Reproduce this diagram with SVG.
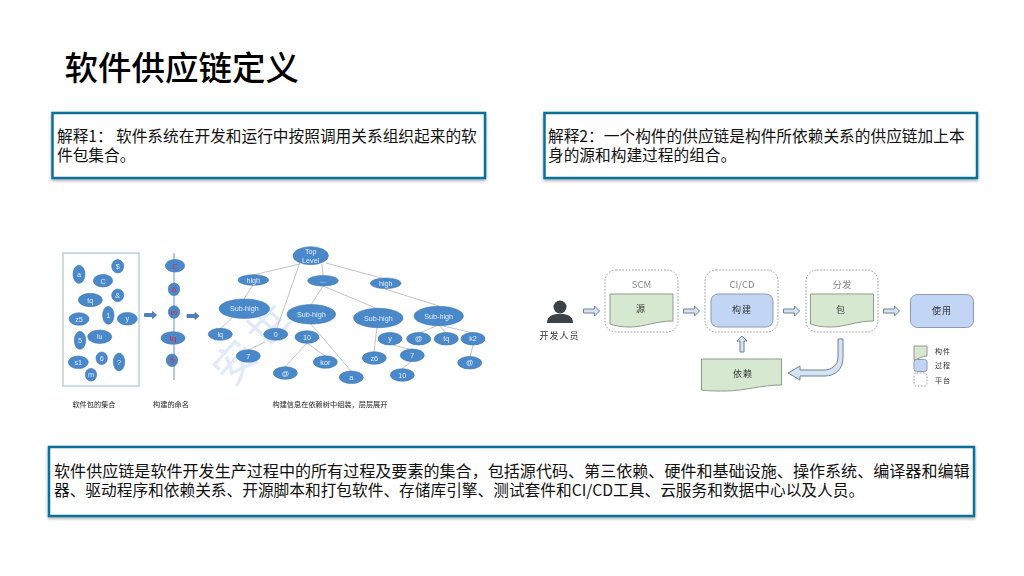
<svg xmlns="http://www.w3.org/2000/svg" width="1024" height="576" viewBox="0 0 1024 576">
<style>
text{font-family:"Noto Sans CJK SC","Liberation Sans",sans-serif;}
.box{fill:#fff;stroke:#0f6f98;stroke-width:2.500;filter:url(#sh);}
.t{font-size:15.700px;fill:#111;}
.n{fill:#4a88c9;stroke:#3f76ad;stroke-width:.6;}
.l{font-size:7.200px;fill:#e4eef8;text-anchor:middle;font-family:"Liberation Sans",sans-serif;}
.r{font-size:7.600px;fill:#f01f28;text-anchor:middle;font-family:"Liberation Sans",sans-serif;}
.cap{font-size:7.200px;fill:#222;text-anchor:middle;}
.g{stroke:#b4b4b4;stroke-width:.8;fill:none;}
.art{fill:#d6e8cf;stroke:#8f9a8c;stroke-width:1;}
.proc{fill:#c3d5f5;stroke:#8d99b3;stroke-width:1;}
.plat{fill:#fff;stroke:#999;stroke-width:1;stroke-dasharray:1.600 1.600;}
.arr{fill:#d5e3f3;stroke:#6f8296;stroke-width:1;}
.zh{font-size:9px;fill:#333;text-anchor:middle;letter-spacing:1px;}
.hd{font-size:9.500px;fill:#888;text-anchor:middle;}
.ba{fill:#4f81bd;stroke:#3b6ea5;stroke-width:.8;}
.soft{filter:url(#bl);}
.soft2{filter:url(#bl2);}
</style>
<defs>
<filter id="sh" x="-3%" y="-10%" width="106%" height="125%"><feDropShadow dx="0" dy="1.500" stdDeviation="1.500" flood-color="#000" flood-opacity=".35"/></filter>
<filter id="bl" x="-2%" y="-2%" width="104%" height="104%"><feGaussianBlur stdDeviation=".4"/></filter>
<filter id="bl2" x="-5%" y="-5%" width="110%" height="110%"><feGaussianBlur stdDeviation=".3"/></filter>
<path id="doc" d="M0 0H63V27C45 27 35 33 20 33C12 33 6 32 0 30Z"/>
</defs>

<text id="title" x="64.500" y="80" font-size="33.500" fill="#000" style="font-weight:500">软件供应链定义</text>

<g id="def1"><rect class="box" x="52.500" y="113" width="432.500" height="65"/>
<text class="t" x="57" y="142">解释1：<tspan x="116">软件系统在开发和运行中按照调用关系组织起来的软</tspan><tspan x="57" y="161">件包集合。</tspan></text></g>
<g id="def2"><rect class="box" x="544.500" y="113" width="432.500" height="65"/>
<text class="t" x="548" y="141.500">解释2：一个构件的供应链是构件所依赖关系的供应链加上本<tspan x="548" y="161">身的源和构建过程的组合。</tspan></text></g>
<g id="def3"><rect class="box" x="49" y="447" width="925" height="69"/>
<text class="t" x="54" y="477"><tspan style="font-size:16.070px">软件供应链是软件开发生产过程中的所有过程及要素的集合，包括源代码、第三依赖、硬件和基础设施、操作系统、编译器和编辑</tspan><tspan x="54" y="495.500">器、驱动程序和依赖关系、开源脚本和打包软件、存储库引擎、测试套件和CI/CD工具、云服务和数据中心以及人员。</tspan></text></g>

<g id="watermark"><text x="232" y="388" font-size="42" fill="#e1ebf8" letter-spacing="8" transform="rotate(-48 232 388)">安世</text></g>

<g id="connectors" class="soft">
<path class="g" d="M300 264L253 275M300 262L277 328M322 264L323 275M326 263L385 279M253 285L244 299M232 318L220 329M323 286L311 305M323 286L378 309M385 289L439 306M265 342L248 350M311 324L351 371M307 343L285 367M307 343L325 356M377 327L374 352M390 344L412 350M412 361L402 369M439 325L419 333M439 325L446 333M439 325L473 333M473 345L470 357"/>
<path d="M174 253V380" stroke="#7fa6cf" stroke-width="1.200" fill="none"/>
<path class="ba" d="M144.500 313.500h8v-2l4 3.500-4 3.500v-2h-8zM187 314.500h8v-2l4 3.500-4 3.500v-2h-8z"/>
<path class="arr" d="M583.500 309h11v-3l5 5-5 5v-3h-11zM683.500 309h11v-3l5 5-5 5v-3h-11zM783.500 309h11v-3l5 5-5 5v-3h-11zM883.500 309h11v-3l5 5-5 5v-3h-11zM740 352v-11h-3l5-5 5 5h-3v11z"/>
<path class="arr" d="M838 339H843V358C843 369 835 376 825 376H800V380L788 373L800 366V370H824C832 370 838 365 838 357Z"/>
</g>

<g id="packages" class="soft"><rect x="63" y="253" width="76" height="133" fill="none" stroke="#bccfe3" stroke-width="1.500"/>
<ellipse class="n" cx="79" cy="274.300" rx="6" ry="9"/><text class="l" x="79" y="277">a</text>
<ellipse class="n" cx="117.700" cy="266.300" rx="6" ry="6.700"/><text class="l" x="117.700" y="269">$</text>
<ellipse class="n" cx="103" cy="280.700" rx="9.700" ry="6.300"/><text class="l" x="103" y="283.500">C</text>
<ellipse class="n" cx="90.300" cy="300" rx="12" ry="6.700"/><text class="l" x="90.300" y="302.500">tq</text>
<ellipse class="n" cx="117.700" cy="295.300" rx="6" ry="6.300"/><text class="l" x="117.700" y="298">&amp;</text>
<ellipse class="n" cx="79" cy="319" rx="10" ry="6.300"/><text class="l" x="79" y="321.500">z5</text>
<ellipse class="n" cx="108.300" cy="315.300" rx="5.700" ry="9"/><text class="l" x="108.300" y="318">1</text>
<ellipse class="n" cx="127.300" cy="318.700" rx="10" ry="6.300"/><text class="l" x="127.300" y="321">y</text>
<ellipse class="n" cx="80" cy="340.300" rx="5.700" ry="9"/><text class="l" x="80" y="343">5</text>
<ellipse class="n" cx="99.700" cy="336.700" rx="12" ry="6.700"/><text class="l" x="99.700" y="339">lu</text>
<ellipse class="n" cx="78.300" cy="362.300" rx="10" ry="6.300"/><text class="l" x="78.300" y="365">s1</text>
<ellipse class="n" cx="101.700" cy="358.300" rx="5.700" ry="6.300"/><text class="l" x="101.700" y="361">6</text>
<ellipse class="n" cx="119" cy="362" rx="5.700" ry="9"/><text class="l" x="119" y="364.500">?</text>
<ellipse class="n" cx="91" cy="374.700" rx="5.700" ry="6.300"/><text class="l" x="91" y="377">m</text>
<text class="cap" x="94" y="407">软件包的集合</text></g>

<g id="chain" class="soft">
<ellipse class="n" cx="175" cy="265.700" rx="9.700" ry="6.300"/><text class="r" x="175" y="268.500">C</text>
<ellipse class="n" cx="174" cy="289.300" rx="5.700" ry="6.300"/><text class="r" x="174" y="292">6</text>
<ellipse class="n" cx="174" cy="312" rx="5.700" ry="6.300"/><text class="r" x="174" y="314.500">m</text>
<ellipse class="n" cx="173" cy="338" rx="12" ry="6.300"/><text class="r" x="173" y="340.500">tq</text>
<ellipse class="n" cx="172" cy="360.300" rx="5.700" ry="6.300"/><text class="r" x="172" y="363">5</text>
<text class="cap" x="171" y="407">构建的命名</text></g>

<g id="tree" class="soft">
<ellipse class="n" cx="310.700" cy="255.700" rx="17.700" ry="9"/><text class="l" x="310.700" y="254">Top<tspan x="310.700" y="262.500">Level</tspan></text>
<ellipse class="n" cx="253.300" cy="280" rx="15.300" ry="5.300"/><text class="l" x="253.300" y="282.500">high</text>
<ellipse class="n" cx="323" cy="280.700" rx="15.300" ry="5.300"/><text class="l" x="323" y="283">...</text>
<ellipse class="n" cx="385.700" cy="283.300" rx="15.300" ry="5.300"/><text class="l" x="385.700" y="286">high</text>
<ellipse class="n" cx="244.300" cy="308.700" rx="25.300" ry="9.700"/><text class="l" x="244.300" y="311">Sub-high</text>
<ellipse class="n" cx="311.300" cy="314.300" rx="24.300" ry="9.700"/><text class="l" x="311.300" y="317">Sub-high</text>
<ellipse class="n" cx="378.300" cy="318" rx="24.700" ry="9.700"/><text class="l" x="378.300" y="320.500">Sub-high</text>
<ellipse class="n" cx="438.700" cy="316" rx="24.700" ry="9.700"/><text class="l" x="438.700" y="318.500">Sub-high</text>
<ellipse class="n" cx="220.300" cy="334.300" rx="12" ry="6"/><text class="l" x="220.300" y="337">lq</text>
<ellipse class="n" cx="275.700" cy="334.300" rx="12" ry="6"/><text class="l" x="275.700" y="337">0</text>
<ellipse class="n" cx="307" cy="337" rx="12" ry="6.300"/><text class="l" x="307" y="339.500">10</text>
<ellipse class="n" cx="248.300" cy="356" rx="12" ry="6.300"/><text class="l" x="248.300" y="358.500">7</text>
<ellipse class="n" cx="285.300" cy="373" rx="12" ry="6.300"/><text class="l" x="285.300" y="375.500">@</text>
<ellipse class="n" cx="325.300" cy="362" rx="12" ry="6.300"/><text class="l" x="325.300" y="364.500">kor</text>
<ellipse class="n" cx="351.300" cy="377.300" rx="12" ry="6.300"/><text class="l" x="351.300" y="380">a</text>
<ellipse class="n" cx="390" cy="338.700" rx="12" ry="6.300"/><text class="l" x="390" y="341">y</text>
<ellipse class="n" cx="374.300" cy="358" rx="12" ry="6.300"/><text class="l" x="374.300" y="360.500">z6</text>
<ellipse class="n" cx="412.300" cy="355.300" rx="12" ry="6.300"/><text class="l" x="412.300" y="358">7</text>
<ellipse class="n" cx="402.300" cy="375" rx="12" ry="6.300"/><text class="l" x="402.300" y="377.500">10</text>
<ellipse class="n" cx="418.700" cy="338.700" rx="12" ry="6.300"/><text class="l" x="418.700" y="341">@</text>
<ellipse class="n" cx="446.300" cy="338.700" rx="12" ry="6.300"/><text class="l" x="446.300" y="341">tq</text>
<ellipse class="n" cx="473" cy="338.700" rx="12" ry="6.300"/><text class="l" x="473" y="341">k2</text>
<ellipse class="n" cx="469.700" cy="362.700" rx="12" ry="6.300"/><text class="l" x="469.700" y="365">@</text>
<text class="cap" x="330" y="407">构建信息在依赖树中组装，层层展开</text></g>

<g id="dev" class="soft2"><circle cx="560" cy="307" r="6.500" fill="#3d4349"/><path d="M547 323c0-8 7-9 13-9s13 1 13 9z" fill="#3d4349"/><text class="zh" x="559.500" y="339">开发人员</text></g>
<g id="scm" class="soft2"><rect class="plat" x="605" y="270" width="73" height="62" rx="11"/><text class="hd" x="641.500" y="288">SCM</text><use href="#doc" class="art" x="610" y="294"/><text class="zh" x="641" y="312">源</text></g>
<g id="cicd" class="soft2"><rect class="plat" x="705" y="270" width="73" height="62" rx="11"/><text class="hd" x="742" y="288">CI/CD</text><rect class="proc" x="711" y="294" width="62" height="33" rx="7"/><text class="zh" x="742" y="313">构建</text></g>
<g id="dist" class="soft2"><rect class="plat" x="806" y="270" width="72" height="62" rx="11"/><text class="hd" x="842" y="288">分发</text><use href="#doc" class="art" x="810.500" y="294"/><text class="zh" x="841" y="313">包</text></g>
<g id="use" class="soft2"><rect class="proc" x="910.500" y="294.500" width="63" height="33" rx="7"/><text class="zh" x="942" y="314">使用</text></g>
<g id="dep" class="soft2"><path class="art" d="M701.500 359H781.500V385C760 385 745 391 725 391C715 391 708 391 701.500 390Z"/><text class="zh" x="743" y="377">依赖</text></g>
<g id="legend" class="soft2"><path class="art" d="M914 346h13v10c-5 0-8 3-13 4z"/><rect class="proc" x="914" y="359.500" width="13" height="12" rx="2.500"/><rect class="plat" x="914" y="373" width="13" height="13" rx="2.500"/>
<text class="zh" x="943" y="354" style="font-size:7px">构件</text><text class="zh" x="943" y="368" style="font-size:7px">过程</text><text class="zh" x="943" y="383" style="font-size:7px">平台</text></g>
</svg>
